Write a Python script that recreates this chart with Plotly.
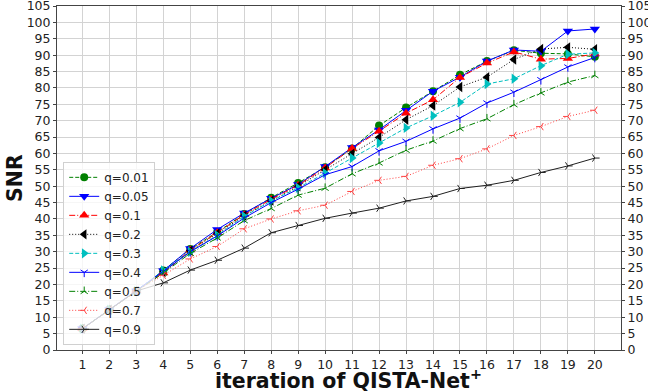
import plotly.graph_objects as go

iterations = list(range(1, 21))
x_ticks = list(range(1, 21))
y_ticks = list(range(0, 106, 5))

q001 = [6.5, 12.3, 18.0, 24.3, 30.8, 36.0, 41.5, 46.5, 51.0, 55.8, 61.5, 68.5, 74.0, 79.0, 84.0, 88.2, 91.5, 90.6, 90.4, 89.5]
q005 = [6.5, 12.3, 18.0, 24.2, 31.0, 36.8, 41.8, 46.3, 50.5, 56.0, 61.8, 67.2, 73.2, 79.0, 83.3, 88.2, 91.6, 91.2, 97.4, 98.0]
q01 = [6.5, 12.3, 18.0, 23.5, 30.5, 35.8, 41.3, 46.0, 50.3, 55.6, 61.5, 66.8, 72.3, 76.4, 83.2, 87.6, 91.0, 88.8, 89.0, 90.4]
q02 = [6.5, 12.3, 18.0, 23.8, 30.3, 35.5, 41.0, 45.6, 50.0, 55.0, 59.9, 64.9, 70.3, 74.6, 80.3, 83.3, 88.7, 91.9, 92.4, 91.8]
q03 = [6.5, 12.3, 18.0, 24.3, 30.0, 35.0, 40.8, 45.5, 49.5, 54.0, 58.6, 63.2, 67.8, 71.5, 75.6, 81.2, 82.8, 86.8, 90.3, 90.7]
q04 = [6.5, 12.3, 18.0, 24.0, 30.0, 34.8, 40.3, 45.0, 49.1, 53.5, 56.0, 60.8, 63.7, 67.5, 70.8, 75.4, 78.7, 82.5, 86.4, 89.3]
q05 = [6.5, 12.3, 18.0, 23.5, 29.5, 34.2, 39.5, 43.2, 47.3, 49.4, 53.8, 57.1, 61.0, 63.8, 67.6, 70.6, 74.9, 78.5, 81.8, 83.8]
q07 = [6.5, 12.3, 18.0, 22.8, 27.8, 31.6, 37.0, 40.0, 42.5, 44.2, 48.4, 51.8, 53.0, 56.4, 58.4, 61.4, 65.5, 68.2, 71.3, 73.2]
q09 = [6.5, 12.3, 18.0, 20.5, 24.4, 27.4, 31.1, 35.8, 38.0, 40.2, 41.8, 43.3, 45.5, 46.9, 49.3, 50.3, 51.8, 54.2, 56.2, 58.6]

DASH = "4px,2px"
DOT = "1px,2px"
DASHDOT = "6px,2px,1px,2px"

series = [
    ("q=0.01", q001, "#008000", DASH, "circle", 8, False),
    ("q=0.05", q005, "#0000ff", "solid", "triangle-down", 9, False),
    ("q=0.1", q01, "#ff0000", DASHDOT, "triangle-up", 9, False),
    ("q=0.2", q02, "#000000", DOT, "triangle-left", 9, False),
    ("q=0.3", q03, "#00bfbf", DASH, "triangle-right", 9, False),
    ("q=0.4", q04, "#0000ff", "solid", "y-down", 6, True),
    ("q=0.5", q05, "#008000", DASHDOT, "y-up", 6, True),
    ("q=0.7", q07, "#ff4040", DOT, "y-left", 6, True),
    ("q=0.9", q09, "#202020", "solid", "y-right", 6, True),
]

fig = go.Figure()
for name, vals, color, dash, sym, size, open_sym in series:
    if open_sym:
        marker = dict(symbol=sym, size=size, color=color, line=dict(color=color, width=1))
    else:
        marker = dict(symbol=sym, size=size, color=color, line=dict(width=0))
    fig.add_trace(go.Scatter(
        x=iterations, y=vals, name=name, mode="lines+markers",
        line=dict(color=color, width=1, dash=dash),
        marker=marker,
    ))

fig.add_trace(go.Scatter(x=[1], y=[0], yaxis="y2", showlegend=False,
                         hoverinfo="skip", mode="markers", marker=dict(opacity=0)))

font_family = "DejaVu Sans"
TICK_FS = 12.5
Y_RANGE = [0, 105.02]
fig.update_layout(
    width=648, height=391,
    margin=dict(l=57, r=27, t=6, b=41),
    plot_bgcolor="white", paper_bgcolor="white",
    font=dict(family=font_family, size=TICK_FS, color="#222"),
    showlegend=True,
    legend=dict(
        x=0.011, y=0.015, xanchor="left", yanchor="bottom",
        bgcolor="rgba(255,255,255,0.8)", bordercolor="#d0d0d0", borderwidth=1,
        font=dict(family=font_family, size=12, color="#222"),
        tracegroupgap=0, itemwidth=30,
    ),
    xaxis=dict(
        range=[0.06, 20.97], tickmode="array", tickvals=x_ticks,
        ticktext=[str(t) for t in x_ticks], automargin=False,
        showgrid=True, gridcolor="#d3d3d3", gridwidth=1,
        showline=True, linecolor="#444", linewidth=1, mirror=True,
        ticks="outside", ticklen=3, tickcolor="#444", ticklabeloverflow="allow",
        zeroline=False, tickfont=dict(size=TICK_FS),
    ),
    yaxis=dict(
        range=Y_RANGE, tickmode="array", tickvals=y_ticks, automargin=False,
        showgrid=True, gridcolor="#d3d3d3", gridwidth=1,
        showline=True, linecolor="#444", linewidth=1, mirror=True,
        ticks="outside", ticklen=3, tickcolor="#444", ticklabeloverflow="allow",
        zeroline=False, tickfont=dict(size=TICK_FS),
    ),
    yaxis2=dict(
        range=Y_RANGE, tickmode="array", tickvals=y_ticks, automargin=False,
        overlaying="y", side="right", showgrid=False, zeroline=False,
        ticks="outside", ticklen=3, tickcolor="#444", showline=False,
        ticklabeloverflow="allow",
        tickfont=dict(family=font_family, size=TICK_FS, color="#222"),
    ),
    annotations=[
        dict(text="<b>iteration of QISTA-Net<sup>+</sup></b>", xref="paper", yref="paper",
             x=0.2766, y=-0.086, xanchor="left", yanchor="middle", showarrow=False,
             font=dict(size=20.5, family=font_family, color="#111")),
        dict(text="<b>SNR</b>", xref="paper", yref="paper", textangle=-90,
             x=-0.0745, y=0.5, xanchor="center", yanchor="middle", showarrow=False,
             font=dict(size=20.5, family=font_family, color="#111")),
    ],
)

fig.write_html("out.html")
